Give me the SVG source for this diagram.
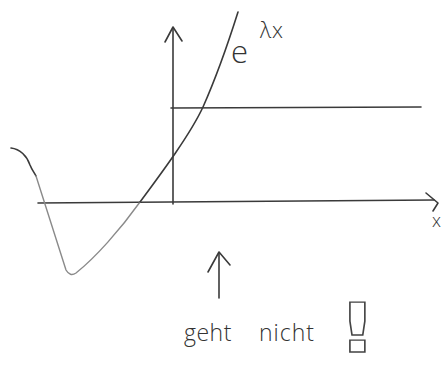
<svg xmlns="http://www.w3.org/2000/svg" width="447" height="367" viewBox="0 0 447 367">
<style>
.ln{fill:none;stroke:#3a3a3a;stroke-width:1.6;stroke-linecap:round;stroke-linejoin:round}
.lt{fill:none;stroke:#8a8a8a;stroke-width:1.4;stroke-linecap:round;stroke-linejoin:round}
.tx{font-family:"Open Sans","DejaVu Sans",sans-serif;font-weight:300;fill:#333}
</style>
<rect width="447" height="367" fill="#fff"/>
<g id="axes">
<path class="ln" d="M173,28 L173,204"/>
<path class="ln" d="M165,42 L173,27 L182,41"/>
<path class="ln" d="M38,203 Q240,201 434,200"/>
<path class="ln" d="M426,193 L438,203 L433,211"/>
<path class="ln" d="M171,108 L421,107"/>
</g>
<g id="curve">
<path class="ln" d="M11,148 C20,149 27,156 30,165 C32,170 34,172 36,176"/>
<path class="lt" d="M36,176 L66,270 Q70,277 76,273 C95,258 120,230 140,202"/>
<path class="ln" d="M140,202 C160,175 190,135 203,107 C215,80 226,50 238,12"/>
</g>
<g id="labels">
<text class="tx" x="231" y="63" font-size="31">e</text>
<text class="tx" x="260" y="38" font-size="22" letter-spacing="1">λx</text>
<text class="tx" x="432" y="227" font-size="18">x</text>
<path class="ln" d="M219,253 L219,298"/>
<path class="ln" d="M208,272 L219,252 L230,265"/>
<text class="tx" x="184" y="341" font-size="23" letter-spacing="0.5">geht</text>
<text class="tx" x="259" y="341" font-size="23" letter-spacing="1">nicht</text>
<text x="0" y="0" font-family="DejaVu Sans, sans-serif" font-weight="bold" font-size="68" fill="#fff" stroke="#444" stroke-width="1.3" transform="translate(338,352) scale(1.25,1)">!</text>
</g>
</svg>
